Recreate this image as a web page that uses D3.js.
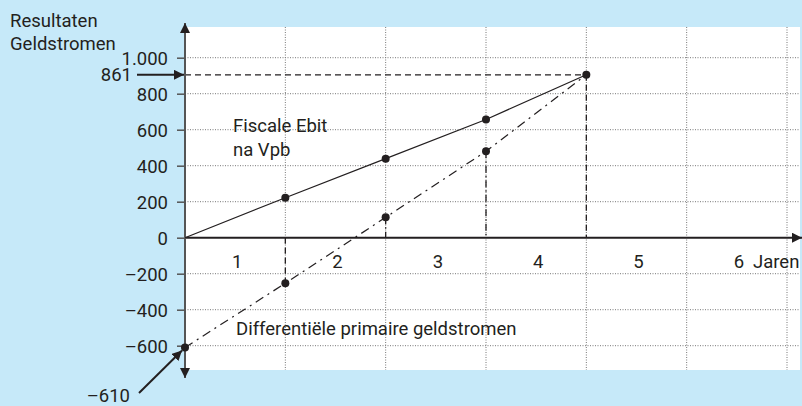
<!DOCTYPE html>
<html>
<head>
<meta charset="utf-8">
<script src="https://cdn.jsdelivr.net/npm/d3@7"></script>
<style>
  body { margin: 0; background: #c6e9f9; }
  svg { display: block; }
  text { font-family: Roboto, "Liberation Sans", sans-serif; fill: #231f20; }
</style>
</head>
<body>
<div id="wrapper"></div>
<script>
// data
const years = [0, 1, 2, 3, 4]
const ebit = [0, 222, 439, 657, 905]           // Fiscale Ebit na Vpb
const primair = [-610, -253, 113, 480, 905]    // Differentiële primaire geldstromen
const yTicks = [-600, -400, -200, 0, 200, 400, 600, 800, 1000]
const xGrid = [1, 2, 3, 4, 5, 6]
const yearLabels = ["1", "2", "3", "4", "5", "6"]
const eindLabel = "861"
const startLabel = "\u2013610"

const fontSize = "18.5px"

function drawChart() {

    // 1. dimensions
    let dimensions = {
        width: 802,
        height: 406,
        plot: { left: 185, right: 800, top: 27, bottom: 370 },
    }

    const wrapper = d3.select("#wrapper")
        .append("svg")
        .attr("width", dimensions.width)
        .attr("height", dimensions.height)

    const defs = wrapper.append("defs")
    defs.append("marker")
        .attr("id", "head")
        .attr("viewBox", "0 0 10 10")
        .attr("refX", 10).attr("refY", 5)
        .attr("markerWidth", 10).attr("markerHeight", 10)
        .attr("markerUnits", "userSpaceOnUse")
        .attr("orient", "auto")
        .append("path")
        .attr("d", "M0,0 L10,5 L0,10 Z")
        .attr("fill", "#231f20")

    // 2. scales
    const xScale = d3.scaleLinear()
        .domain([0, 6])
        .range([185, 787])

    const yScale = d3.scaleLinear()
        .domain([-600, 1000])
        .range([345.7, 57.7])

    const nl = d3.formatLocale({ decimal: ",", thousands: ".", grouping: [3], currency: ["€", ""], minus: "\u2013" })
    const fmt = nl.format(",d")

    // 3. plot area
    wrapper.append("rect")
        .attr("x", dimensions.plot.left)
        .attr("y", dimensions.plot.top)
        .attr("width", dimensions.plot.right - dimensions.plot.left)
        .attr("height", dimensions.plot.bottom - dimensions.plot.top)
        .attr("fill", "white")

    // gridlines
    wrapper.append("g")
        .selectAll("line")
        .data(yTicks.filter(d => d !== 0))
        .join("line")
        .attr("x1", xScale(0)).attr("x2", dimensions.plot.right)
        .attr("y1", d => yScale(d)).attr("y2", d => yScale(d))
        .attr("stroke", "#777")
        .attr("stroke-width", 1)
        .attr("stroke-dasharray", "1,1.5")

    wrapper.append("g")
        .selectAll("line")
        .data(xGrid)
        .join("line")
        .attr("x1", d => xScale(d)).attr("x2", d => xScale(d))
        .attr("y1", dimensions.plot.top).attr("y2", dimensions.plot.bottom)
        .attr("stroke", "#777")
        .attr("stroke-width", 1)
        .attr("stroke-dasharray", "1,1.5")

    // 4. guide lines
    const last = years.length - 1
    const guides = wrapper.append("g").attr("fill", "none").attr("stroke", "#231f20").attr("stroke-width", 1.3)

    guides.append("line")
        .attr("x1", xScale(0)).attr("x2", xScale(years[last]))
        .attr("y1", yScale(ebit[last])).attr("y2", yScale(ebit[last]))
        .attr("stroke-dasharray", "6,4")

    guides.append("line")
        .attr("x1", xScale(years[last])).attr("x2", xScale(years[last]))
        .attr("y1", yScale(ebit[last])).attr("y2", yScale(0))
        .attr("stroke-dasharray", "6,4")

    guides.append("line")
        .attr("x1", xScale(years[1])).attr("x2", xScale(years[1]))
        .attr("y1", yScale(0)).attr("y2", yScale(primair[1]))
        .attr("stroke-dasharray", "6,4")

    guides.selectAll(".drop")
        .data([2, 3])
        .join("line")
        .attr("class", "drop")
        .attr("x1", i => xScale(years[i])).attr("x2", i => xScale(years[i]))
        .attr("y1", i => yScale(primair[i])).attr("y2", yScale(0))
        .attr("stroke-dasharray", "7,3,1.5,3")

    // 5. axes
    const xAxisY = yScale(0)
    wrapper.append("line")
        .attr("x1", xScale(0)).attr("x2", 802)
        .attr("y1", xAxisY).attr("y2", xAxisY)
        .attr("stroke", "#231f20")
        .attr("stroke-width", 2)
        .attr("marker-end", "url(#head)")

    const yAxisGenerator = d3.axisLeft(yScale)
        .tickValues(yTicks)
        .tickSize(8)
        .tickPadding(9)
        .tickFormat(fmt)

    const yAxis = wrapper.append("g")
        .attr("transform", `translate(${xScale(0)},0)`)
        .call(yAxisGenerator)
    yAxis.select(".domain").remove()
    yAxis.selectAll(".tick line").attr("stroke", "#555").attr("stroke-width", 1.5)
    yAxis.selectAll(".tick text")
        .style("font-size", fontSize)
        .style("font-family", "Roboto, sans-serif")
        .attr("fill", "#231f20")
        .attr("dy", "0.36em")

    wrapper.append("line")
        .attr("x1", xScale(0)).attr("x2", xScale(0))
        .attr("y1", yScale(0)).attr("y2", 23)
        .attr("stroke", "#555").attr("stroke-width", 2)
        .attr("marker-end", "url(#head)")
    wrapper.append("line")
        .attr("x1", xScale(0)).attr("x2", xScale(0))
        .attr("y1", yScale(0)).attr("y2", 378)
        .attr("stroke", "#555").attr("stroke-width", 2)
        .attr("marker-end", "url(#head)")

    // year labels, centred in each year
    wrapper.append("g")
        .selectAll("text")
        .data(yearLabels)
        .join("text")
        .attr("x", (d, i) => xScale(i + 0.5) + 2)
        .attr("y", 268)
        .attr("text-anchor", "middle")
        .style("font-size", fontSize)
        .text(d => d)

    wrapper.append("text")
        .attr("x", 753).attr("y", 268)
        .style("font-size", fontSize)
        .text("Jaren")

    // 6. series
    const ebitLine = d3.line().x((d, i) => xScale(years[i])).y(d => yScale(d))

    wrapper.append("path")
        .datum(ebit)
        .attr("d", ebitLine)
        .attr("fill", "none")
        .attr("stroke", "#231f20")
        .attr("stroke-width", 1.2)

    wrapper.append("path")
        .datum(primair)
        .attr("d", ebitLine)
        .attr("fill", "none")
        .attr("stroke", "#231f20")
        .attr("stroke-width", 1.2)
        .attr("stroke-dasharray", "9,5,2,5")

    const dots = wrapper.append("g").attr("fill", "#231f20")
    dots.selectAll(".e")
        .data(ebit.slice(1))
        .join("circle")
        .attr("class", "e")
        .attr("cx", (d, i) => xScale(years[i + 1]))
        .attr("cy", d => yScale(d))
        .attr("r", 4)
    dots.selectAll(".p")
        .data(primair.slice(0, last))
        .join("circle")
        .attr("class", "p")
        .attr("cx", (d, i) => xScale(years[i]))
        .attr("cy", d => yScale(d))
        .attr("r", 4)

    // 7. annotations
    wrapper.append("text").attr("x", 10).attr("y", 27).style("font-size", fontSize).text("Resultaten")
    wrapper.append("text").attr("x", 10).attr("y", 50).style("font-size", fontSize).text("Geldstromen")

    wrapper.append("text").attr("x", 233).attr("y", 132).style("font-size", fontSize).text("Fiscale Ebit")
    wrapper.append("text").attr("x", 233).attr("y", 156).style("font-size", fontSize).text("na Vpb")
    wrapper.append("text").attr("x", 236).attr("y", 335).style("font-size", fontSize).text("Differentiële primaire geldstromen")

    wrapper.append("text")
        .attr("x", 132).attr("y", yScale(ebit[last]))
        .attr("dy", "0.36em")
        .attr("text-anchor", "end")
        .style("font-size", fontSize)
        .text(eindLabel)
    wrapper.append("line")
        .attr("x1", 137).attr("x2", xScale(0) - 1)
        .attr("y1", yScale(ebit[last])).attr("y2", yScale(ebit[last]))
        .attr("stroke", "#231f20").attr("stroke-width", 2)
        .attr("marker-end", "url(#head)")

    wrapper.append("text")
        .attr("x", 130).attr("y", 402)
        .attr("text-anchor", "end")
        .style("font-size", fontSize)
        .text(startLabel)
    wrapper.append("line")
        .attr("x1", 139).attr("y1", 393)
        .attr("x2", xScale(0) - 3).attr("y2", yScale(primair[0]) + 3)
        .attr("stroke", "#231f20").attr("stroke-width", 2)
        .attr("marker-end", "url(#head)")
}
drawChart()
</script>
</body>
</html>
